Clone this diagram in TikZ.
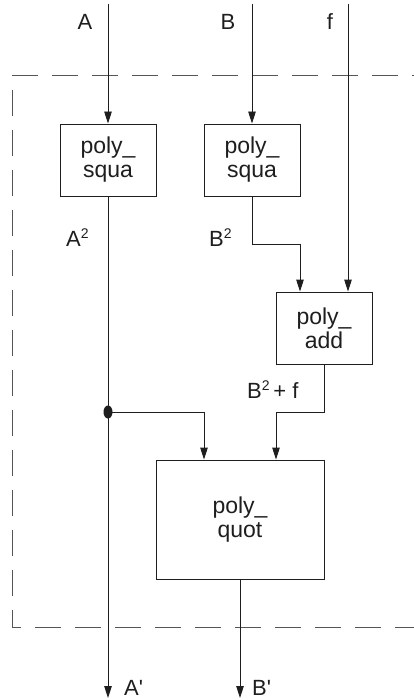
\documentclass[tikz,border=0pt]{standalone}
\usepackage{fontspec}
\setmainfont{Liberation Sans}
\usetikzlibrary{arrows.meta}
\definecolor{ink}{HTML}{1E1E1E}
\definecolor{dashc}{HTML}{555555}
\newcommand{\sq}{\raisebox{8pt}{\fontsize{14}{14}\selectfont 2}}
\tikzset{
  blk/.style={draw=ink, line width=0.9pt, rectangle, inner sep=0pt, align=center,
    font=\fontsize{23}{24}\selectfont, text=ink},
  lbl/.style={inner sep=0pt, anchor=base west, font=\fontsize{22}{24}\selectfont, text=ink},
  wire/.style={draw=ink, line width=0.9pt},
  arr/.style={wire, -{Triangle[length=12pt,width=7.5pt]}},
  frame/.style={draw=dashc, line width=1pt, dash pattern=on 26pt off 14pt}
}
\begin{document}
\begin{tikzpicture}[x=1pt,y=-1pt]
\useasboundingbox (0,0) rectangle (414,700);
% frame
\draw[frame] (12,76) -- (414,76);
\draw[frame] (12,90) -- (12,627) -- (414,627);
% blocks
\node[blk, minimum width=96pt, minimum height=72pt] (s1) at (108,160) {poly\_\\squa};
\node[blk, minimum width=96pt, minimum height=72pt] (s2) at (252,160) {poly\_\\squa};
\node[blk, minimum width=96pt, minimum height=72pt] (add) at (324,328) {poly\_\\add};
\node[blk, minimum width=168pt, minimum height=119pt] (quot) at (240,519.5) {poly\_\\quot};
% coordinates
\coordinate (inA) at (108,4);
\coordinate (inB) at (252,4);
\coordinate (inf) at (348,4);
\coordinate (dot) at (108,412);
\coordinate (outA) at (108,698);
\coordinate (outB) at (240,698);
% connectors
\draw[arr] (inA) -- (s1.north);
\draw[arr] (inB) -- (s2.north);
\draw[arr] (inf) -- (inf |- add.north);
\draw[arr] (s2.south) -- ++(0,48) -| ([xshift=-24pt]add.north);
\draw[arr] (s1.south) -- (outA);
\draw[arr] (dot) -| ([xshift=-36pt]quot.north);
\draw[arr] (add.south) -- ++(0,48) -| ([xshift=36pt]quot.north);
\draw[arr] (quot.south) -- (outB);
\fill[ink] (dot) ellipse [x radius=4.5pt, y radius=6.5pt];
% labels
\node[lbl, anchor=base] (lA) at (85,30) {A};
\node[lbl, anchor=base] (lB) at (228,30) {B};
\node[lbl, anchor=base] (lf) at (330,30) {f};
\node[lbl] (lA2) at (66,247) {A\sq};
\node[lbl] (lB2) at (209,247) {B\sq};
\node[lbl] (lBf) at (247,398) {B\sq\,+ f};
\node[lbl] (lAo) at (124,695) {A\textquotesingle};
\node[lbl] (lBo) at (252,695) {B\textquotesingle};
\end{tikzpicture}
\end{document}
